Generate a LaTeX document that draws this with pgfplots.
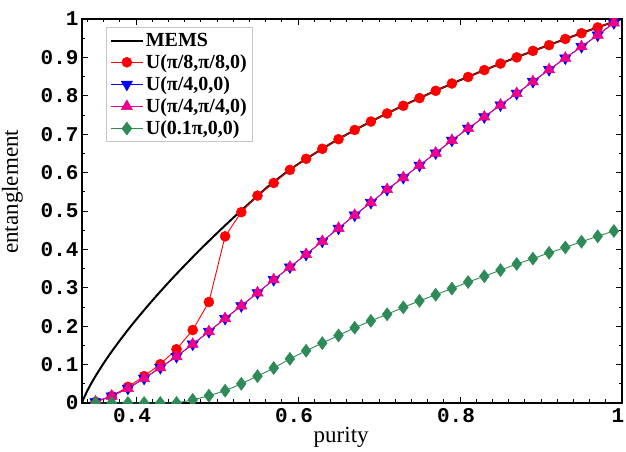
\documentclass[border=0pt]{standalone}
\usepackage{fontspec}
\setmainfont{Liberation Serif}
\newfontfamily\tickfont{Liberation Mono}
\usepackage{pgfplots}
\pgfplotsset{compat=1.18}
\usetikzlibrary{calc}

\definecolor{seagreen}{RGB}{46,139,87}

% MEMS: entanglement of formation vs purity
\pgfplotstableread{
x y
0.33333 0
0.335 0.0097
0.34 0.0323
0.345 0.0519
0.35 0.0700
0.36 0.1033
0.37 0.1340
0.38 0.1628
0.39 0.1903
0.40 0.2166
0.42 0.2665
0.44 0.3135
0.46 0.3582
0.48 0.4011
0.50 0.4423
0.52 0.4821
0.5556 0.5500
0.57 0.5756
0.60 0.6220
0.65 0.6873
0.70 0.7437
0.75 0.7942
0.80 0.8406
0.85 0.8838
0.90 0.9245
0.95 0.9632
0.975 0.9818
0.99 0.9928
1.0 1.0
}\mems

% x, U(pi/8,pi/8,0), U(pi/4,0,0), U(pi/4,pi/4,0), U(0.1pi,0,0)
\pgfplotstableread{
x red blue mag green
0.35 0.003 0.003 0.003 0
0.37 0.018 0.018 0.018 0
0.39 0.042 0.038 0.038 0
0.41 0.070 0.064 0.064 0
0.43 0.101 0.092 0.092 0
0.45 0.140 0.121 0.121 0
0.47 0.190 0.153 0.153 0.008
0.49 0.263 0.186 0.186 0.019
0.51 0.434 0.220 0.220 0.032
0.53 0.497 0.253 0.253 0.050
0.55 0.540 0.287 0.287 0.070
0.57 0.573 0.321 0.321 0.091
0.59 0.607 0.354 0.354 0.115
0.61 0.636 0.387 0.387 0.136
0.63 0.662 0.421 0.421 0.156
0.65 0.687 0.455 0.455 0.176
0.67 0.711 0.489 0.489 0.196
0.69 0.733 0.522 0.522 0.214
0.71 0.754 0.556 0.556 0.231
0.73 0.774 0.587 0.587 0.249
0.75 0.794 0.619 0.619 0.266
0.77 0.813 0.651 0.651 0.282
0.79 0.832 0.684 0.684 0.298
0.81 0.849 0.715 0.715 0.315
0.83 0.867 0.745 0.745 0.330
0.85 0.884 0.776 0.776 0.346
0.87 0.900 0.806 0.806 0.362
0.89 0.917 0.837 0.837 0.376
0.91 0.932 0.868 0.868 0.391
0.93 0.948 0.898 0.898 0.405
0.95 0.963 0.928 0.928 0.420
0.97 0.978 0.958 0.958 0.434
0.99 0.993 0.990 0.990 0.448
}\curves

\begin{document}
\begin{tikzpicture}
\begin{axis}[
    name=ax,
    scale only axis,
    width=540pt, height=384pt,
    xmin=0.33333, xmax=1, ymin=0, ymax=1,
    axis line style={line width=1.3pt},
    xtick={0.4,0.6,0.8,1},
    xticklabels={0.4,0.6,0.8,1},
    minor xtick={0.34,0.36,0.38,0.42,0.44,0.46,0.48,0.5,0.52,0.54,0.56,0.58,0.62,0.64,0.66,0.68,0.7,0.72,0.74,0.76,0.78,0.82,0.84,0.86,0.88,0.9,0.92,0.94,0.96,0.98},
    ytick={0,0.1,0.2,0.3,0.4,0.5,0.6,0.7,0.8,0.9,1},
    yticklabels={0,0.1,0.2,0.3,0.4,0.5,0.6,0.7,0.8,0.9,1},
    minor ytick={0.05,0.15,0.25,0.35,0.45,0.55,0.65,0.75,0.85,0.95},
    tick align=inside,
    major tick length=6pt,
    minor tick length=3.5pt,
    tick style={black, line width=0.9pt},
    ticklabel style={font=\tickfont\bfseries\fontsize{21}{21}\selectfont},
    xticklabel style={yshift=-2pt, xshift=-4pt},
    xlabel={purity},
    ylabel={entanglement},
    label style={font=\fontsize{23}{25}\selectfont},
    xlabel style={at={(axis description cs:0.48,0)}, anchor=base, yshift=-39pt},
    ylabel style={at={(axis description cs:0,0.55)}, anchor=base, yshift=64pt},
    clip marker paths=true,
    legend cell align=left,
    legend image code/.code={\draw[mark repeat=2,mark phase=2] plot coordinates {(0pt,0pt)(16pt,0pt)(32pt,0pt)};},
    legend style={at={(axis description cs:0.044,0.979)}, anchor=north west,
        draw=black!22, line width=1.2pt, fill=white,
        font=\bfseries\fontsize{20}{22}\selectfont,
        inner sep=3.5pt, row sep=2.7pt},
]
\addplot[black, line width=2pt, smooth] table[x=x,y=y] {\mems};
\addlegendentry{MEMS}
\addplot[red, line width=0.9pt, mark=*, mark size=5pt, mark options={solid, fill=red, line width=0.5pt}] table[x=x,y=red] {\curves};
\addlegendentry{U(π/8,π/8,0)}
\addplot[blue, line width=0.9pt, mark=triangle*, mark size=6.5pt, mark options={solid, fill=blue, rotate=180, line width=0.5pt}] table[x=x,y=blue] {\curves};
\addlegendentry{U(π/4,0,0)}
\addplot[magenta, line width=0.9pt, mark=triangle*, mark size=6.5pt, mark options={solid, fill=magenta, line width=0.5pt}] table[x=x,y=mag] {\curves};
\addlegendentry{U(π/4,π/4,0)}
\addplot[seagreen, line width=0.9pt, mark=diamond*, mark size=6.5pt, mark options={solid, fill=seagreen, line width=0.5pt}] table[x=x,y=green] {\curves};
\addlegendentry{U(0.1π,0,0)}
\end{axis}
\pgfresetboundingbox
\path ($(ax.south west)+(-82pt,-49pt)$) rectangle ($(ax.north east)+(4pt,19pt)$);
\end{tikzpicture}
\end{document}
